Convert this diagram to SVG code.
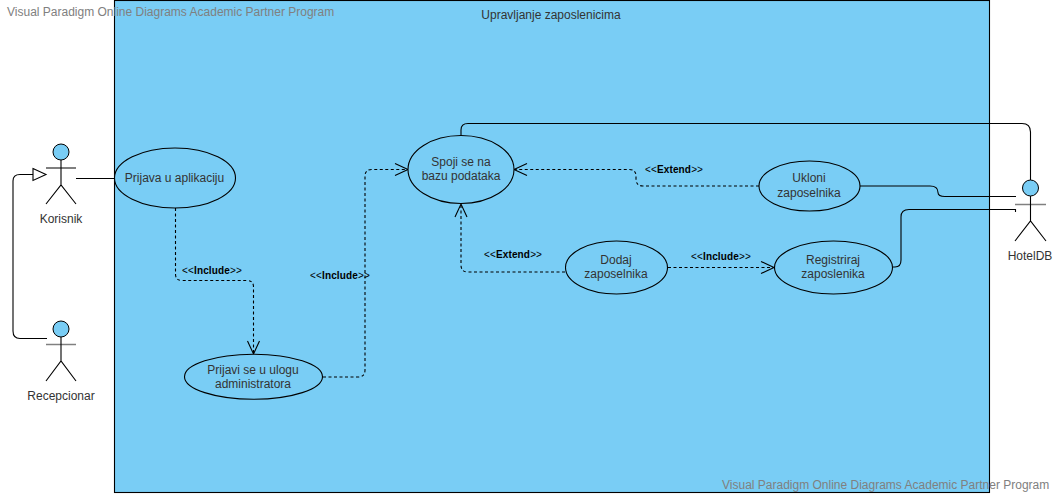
<svg xmlns="http://www.w3.org/2000/svg" width="1055" height="495" viewBox="0 0 1055 495">
<style>
text{font-family:"Liberation Sans",Arial,sans-serif;font-size:12px;fill:#333;text-anchor:middle}
.uc{fill:#79cdf5;stroke:#000;stroke-width:1.1}
.c{fill:none;stroke:#000;stroke-width:1.1}
.d{stroke-dasharray:3 2.500}
.a{fill:none;stroke:#000;stroke-width:1.1}
.h{fill:#79cdf5;stroke:#000;stroke-width:1}
.l{font-size:10px;fill:#000;letter-spacing:.15px}
.l tspan{font-weight:bold}
.w{fill:#808080;text-anchor:start}
</style>
<rect width="1055" height="495" fill="#fff"/>
<g id="system">
<rect x="114.500" y=".5" width="875" height="492" fill="#79cdf5" stroke="#000" stroke-width="1.100"/>
<text x="551" y="19">Upravljanje zaposlenicima</text>
</g>
<g id="connectors">
<path class="c" d="M76 178.500H115"/>
<path class="c" d="M47 338.500H20Q13 338.500 13 331V181Q13 174.500 20 174.500H33"/>
<path d="M33 168.500L46 174.500L33 180.500Z" fill="#fff" stroke="#000" stroke-width="1.100"/>
<path class="c d" d="M175.500 208V274Q175.500 280.500 182 280.500H247Q253.500 280.500 253.500 287V354"/>
<path class="a" d="M247.500 341L253.500 354L259.500 341"/>
<path class="c d" d="M323 377H358Q365 377 365 370V176Q365 169.500 372 169.500H408"/>
<path class="a" d="M395 163.500L408 169.500L395 175.500"/>
<path class="c d" d="M759 186H643Q636 186 636 179V176Q636 169.500 629 169.500H514"/>
<path class="a" d="M527 163.500L514 169.500L527 175.500"/>
<path class="c d" d="M565 272H468Q461 272 461 265V204"/>
<path class="a" d="M455 217L461 204L467 217"/>
<path class="c d" d="M668 267.500H774"/>
<path class="a" d="M761 261.500L774 267.500L761 273.500"/>
<path class="c" d="M461 135V130Q461 123.500 468 123.500H1022Q1030.500 123.500 1030.500 132V180"/>
<path class="c" d="M860 186H930Q938 186 938 192.500Q938 196.500 945 196.500H1016"/>
<path class="c" d="M893 267H895Q901 267 901 260V217Q901 209.500 909 209.500H1015.500V212"/>
</g>
<g id="include1"><text class="l" x="212" y="274">&lt;&lt;<tspan>Include</tspan>&gt;&gt;</text></g>
<g id="include2"><text class="l" x="340" y="279">&lt;&lt;<tspan>Include</tspan>&gt;&gt;</text></g>
<g id="extend1"><text class="l" x="674" y="173">&lt;&lt;<tspan>Extend</tspan>&gt;&gt;</text></g>
<g id="extend2"><text class="l" x="513" y="258">&lt;&lt;<tspan>Extend</tspan>&gt;&gt;</text></g>
<g id="include3"><text class="l" x="721" y="260">&lt;&lt;<tspan>Include</tspan>&gt;&gt;</text></g>
<g id="prijava"><ellipse class="uc" cx="175" cy="178" rx="60.500" ry="30"/><text x="174.500" y="182">Prijava u aplikaciju</text></g>
<g id="prijavi"><ellipse class="uc" cx="253.500" cy="376.700" rx="69" ry="22.500"/><text x="253" y="374">Prijavi se u ulogu</text><text x="253" y="388">administratora</text></g>
<g id="spoji"><ellipse class="uc" cx="461" cy="169.500" rx="53" ry="34"/><text x="461" y="166">Spoji se na</text><text x="461" y="180">bazu podataka</text></g>
<g id="dodaj"><ellipse class="uc" cx="616.500" cy="267.500" rx="51" ry="26.500"/><text x="616" y="264">Dodaj</text><text x="616" y="278">zaposelnika</text></g>
<g id="ukloni"><ellipse class="uc" cx="809.500" cy="186" rx="50.500" ry="25"/><text x="809" y="182">Ukloni</text><text x="809" y="197">zaposelnika</text></g>
<g id="registriraj"><ellipse class="uc" cx="833.500" cy="267.500" rx="59" ry="26.500"/><text x="833" y="264">Registriraj</text><text x="833" y="278">zaposlenika</text></g>
<g id="korisnik"><path class="c" d="M61 160V185M46 168H76M46 204L61 185L76 204"/><circle class="h" cx="61" cy="152" r="8"/><text x="61" y="223">Korisnik</text></g>
<g id="recepcionar"><path d="M46 344.500H76" stroke="#808080" stroke-width="1.500"/><path class="c" d="M61 337V361M46 381L61 361L76 381"/><circle class="h" cx="61" cy="329" r="8"/><text x="61" y="400">Recepcionar</text></g>
<g id="hoteldb"><path d="M1015 204.500H1046" stroke="#808080" stroke-width="1.500"/><path class="c" d="M1030.500 196V221M1015 241L1030.500 221L1046 241"/><circle class="h" cx="1030.500" cy="188" r="8"/><text x="1030" y="260">HotelDB</text></g>
<g id="watermarks">
<text class="w" x="7" y="15.500">Visual Paradigm Online Diagrams Academic Partner Program</text>
<text class="w" x="722" y="489">Visual Paradigm Online Diagrams Academic Partner Program</text>
</g>
</svg>
